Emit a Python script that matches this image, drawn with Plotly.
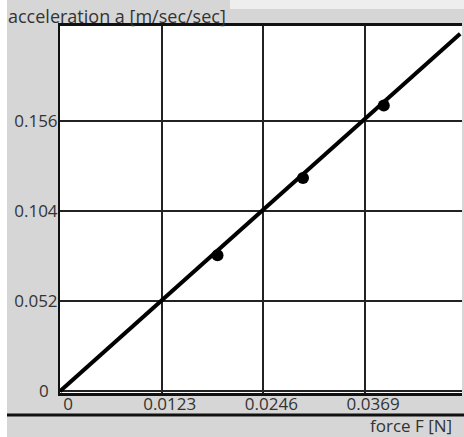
import plotly.graph_objects as go

# Data
force_N = [0.01905, 0.02939, 0.03916]
accel = [0.0786, 0.1232, 0.1651]
fit_force = [0.0, 0.0484]
fit_accel = [0.0, 0.2065]
x_ticks = [0, 0.0123, 0.0246, 0.0369]
x_ticktext = ["0", "0.0123", "0.0246", "0.0369"]
y_ticks = [0, 0.052, 0.104, 0.156]
y_ticktext = ["0&nbsp;&nbsp;", "0.052", "0.104", "0.156"]

W, H = 464, 437
L, R, T, B = 60, 2, 26, 44
pw, ph = W - L - R, H - T - B

def px(xp):
    return (xp - L) / pw

def py(yp):
    return (H - B - yp) / ph

FONT = "Open Sans"
TXT = "#333333"

fig = go.Figure()
fig.add_trace(go.Scatter(x=fit_force, y=fit_accel, mode="lines",
                         line=dict(color="#000000", width=4), hoverinfo="skip",
                         showlegend=False))
fig.add_trace(go.Scatter(x=force_N, y=accel, mode="markers",
                         marker=dict(color="#000000", size=12), showlegend=False))

fig.update_layout(
    width=W, height=H,
    margin=dict(l=L, r=R, t=T, b=B, pad=0),
    paper_bgcolor="#d6d6d6",
    plot_bgcolor="#ffffff",
    font=dict(family=FONT, size=17, color=TXT),
    xaxis=dict(range=[0, 0.04862], tickvals=x_ticks, ticktext=x_ticktext,
               showgrid=True, gridcolor="#222222", gridwidth=2,
               zeroline=False, showline=True, linecolor="#111111", linewidth=3,
               mirror=True, ticks="", ticklabelshift=8, ticklabelstandoff=-6,
               tickfont=dict(family=FONT, size=17, color=TXT)),
    yaxis=dict(range=[-0.001, 0.2110], tickvals=y_ticks, ticktext=y_ticktext,
               showgrid=True, gridcolor="#222222", gridwidth=2,
               zeroline=False, showline=True, linecolor="#111111", linewidth=2,
               ticks="", ticklabelstandoff=-3,
               tickfont=dict(family=FONT, size=17, color=TXT)),
    shapes=[
        dict(type="rect", xref="paper", yref="paper", x0=px(0), x1=px(7),
             y0=py(H), y1=py(0), fillcolor="#ffffff", line=dict(width=0), layer="below"),
        dict(type="rect", xref="paper", yref="paper", x0=px(230), x1=px(W),
             y0=py(9), y1=py(0), fillcolor="#eeeeee", line=dict(width=0), layer="below"),
        dict(type="line", xref="paper", yref="paper", x0=px(7), x1=px(W),
             y0=py(415), y1=py(415), line=dict(color="#111111", width=3)),
    ],
    annotations=[
        dict(text="acceleration a [m/sec/sec]", xref="paper", yref="paper",
             x=px(6), y=py(16), xanchor="left", yanchor="middle", showarrow=False,
             font=dict(family=FONT, size=18, color=TXT)),
        dict(text="force F [N]", xref="paper", yref="paper",
             x=px(454), y=py(425), xanchor="right", yanchor="middle", showarrow=False,
             font=dict(family=FONT, size=17, color=TXT)),
    ],
)

fig.write_html("out.html")
